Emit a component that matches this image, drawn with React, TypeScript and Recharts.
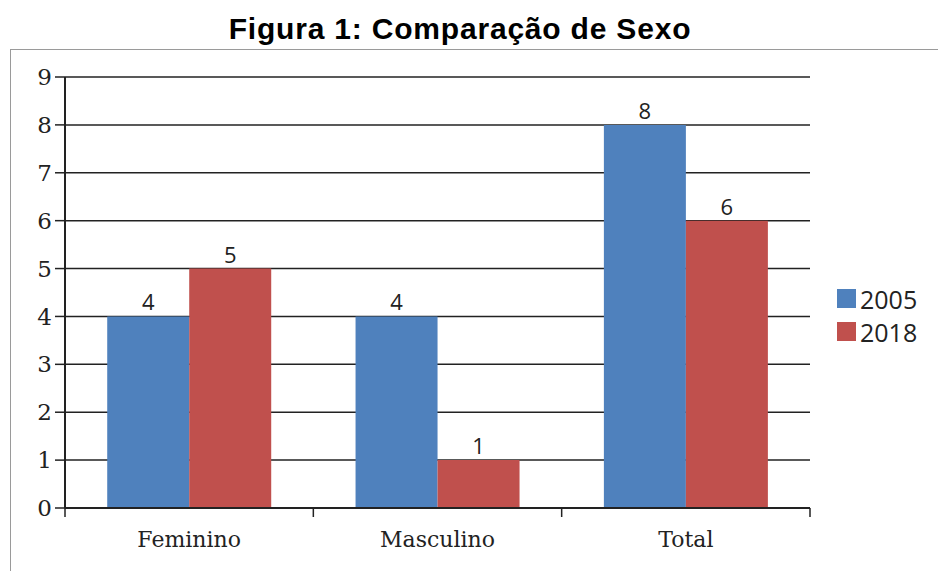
import { Bar, BarChart, CartesianGrid, LabelList, Legend, XAxis, YAxis } from "recharts";

const categories = ["Feminino", "Masculino", "Total"];
const values2005 = [4, 4, 8];
const values2018 = [5, 1, 6];
const yTicks = [0, 1, 2, 3, 4, 5, 6, 7, 8, 9];

const BLUE = "#4F81BD";
const RED = "#C0504D";
const SERIF = "'DejaVu Serif', 'Liberation Serif', serif";
const SANS = "'Open Sans', 'Noto Sans', sans-serif";

const data = categories.map((name, i) => ({ name, y2005: values2005[i], y2018: values2018[i] }));

function CategoryTick(props: any) {
  const { x, y, payload, index, width } = props;
  const half = width / categories.length / 2;
  return (
    <g>
      <line x1={x - half} x2={x - half} y1={y - 8} y2={y + 1} stroke="#222" strokeWidth={1.5} />
      {index === categories.length - 1 ? (
        <line x1={x + half} x2={x + half} y1={y - 8} y2={y + 1} stroke="#222" strokeWidth={1.5} />
      ) : null}
      <text x={x} y={y + 31} textAnchor="middle" fill="#222" fontSize={22} fontFamily={SERIF}>
        {payload.value}
      </text>
    </g>
  );
}

function LegendBox() {
  const items = [
    { label: "2005", color: BLUE },
    { label: "2018", color: RED },
  ];
  return (
    <div style={{ fontFamily: SANS, fontSize: 25, color: "#222" }}>
      {items.map((it) => (
        <div key={it.label} style={{ display: "flex", alignItems: "center", height: 33 }}>
          <span style={{ width: 19, height: 19, background: it.color, marginRight: 4, display: "inline-block" }} />
          {it.label}
        </div>
      ))}
    </div>
  );
}

export default function App() {
  return (
    <div style={{ position: "absolute", left: 0, top: 0, width: 938, height: 571, background: "#fff", overflow: "hidden" }}>
      <div
        style={{
          position: "absolute",
          left: 0,
          top: 12,
          width: 920,
          textAlign: "center",
          fontFamily: "'Liberation Sans', Arial, sans-serif",
          fontWeight: "bold",
          fontSize: 30,
          letterSpacing: 0.8,
          color: "#000",
        }}
      >
        Figura 1: Comparação de Sexo
      </div>
      <div
        style={{
          position: "absolute",
          left: 10,
          top: 49,
          width: 960,
          height: 560,
          border: "1.5px solid #9a9a9a",
        }}
      />
      <div style={{ position: "absolute", left: 0, top: 0 }}>
        <BarChart
          width={938}
          height={571}
          data={data}
          margin={{ top: 77, right: 28, bottom: 23, left: 0 }}
          barCategoryGap="17%"
          barGap={0}
        >
          <CartesianGrid vertical={false} stroke="#222" strokeWidth={1.5} />
          <XAxis
            dataKey="name"
            height={40}
            axisLine={{ stroke: "#222", strokeWidth: 2 }}
            tickLine={false}
            tick={<CategoryTick />}
            interval={0}
          />
          <YAxis
            width={65}
            domain={[0, 9]}
            ticks={yTicks}
            interval={0}
            axisLine={{ stroke: "#222", strokeWidth: 2 }}
            tickLine={{ stroke: "#222", strokeWidth: 1.5 }}
            tickSize={10}
            tickMargin={3}
            tick={{ fill: "#222", fontSize: 23, fontFamily: SERIF }}
          />
          <Legend
            layout="horizontal"
            align="right"
            verticalAlign="middle"
            content={<LegendBox />}
            wrapperStyle={{ position: "absolute", left: 837, top: 282, width: 100 }}
          />
          <Bar dataKey="y2005" name="2005" fill={BLUE} isAnimationActive={false}>
            <LabelList dataKey="y2005" position="top" offset={6} fill="#222" fontSize={22} fontFamily={SANS} />
          </Bar>
          <Bar dataKey="y2018" name="2018" fill={RED} isAnimationActive={false}>
            <LabelList dataKey="y2018" position="top" offset={6} fill="#222" fontSize={22} fontFamily={SANS} />
          </Bar>
        </BarChart>
      </div>
    </div>
  );
}
